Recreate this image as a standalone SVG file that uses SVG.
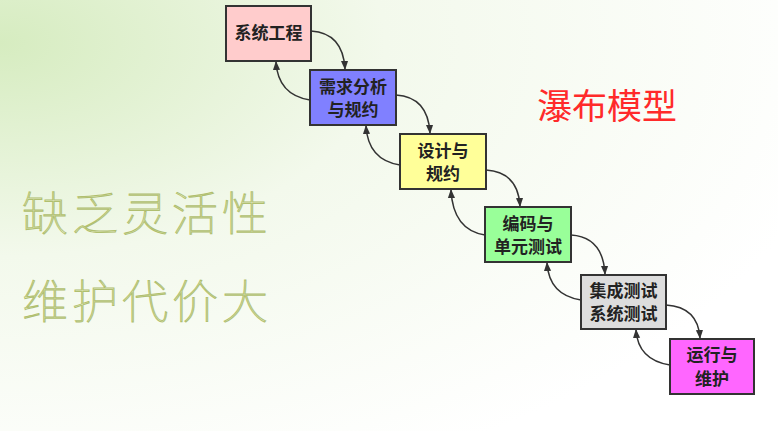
<svg xmlns="http://www.w3.org/2000/svg" width="778" height="431" viewBox="0 0 778 431">
<defs>
<radialGradient id="bg" cx="0" cy="0.1" r="1.1">
<stop offset="0" stop-color="#d6ecc0"/><stop offset="0.45" stop-color="#f3f9ec"/><stop offset="1" stop-color="#ffffff"/>
</radialGradient>
<marker id="ah" viewBox="0 0 10 10" refX="9" refY="5" markerWidth="6" markerHeight="6" orient="auto"><path d="M0,1 L10,5 L0,9 z" fill="#333"/></marker>
<style>
.b{stroke:#333;stroke-width:2}
.t{font-family:"Noto Sans CJK SC",sans-serif;font-size:17px;font-weight:bold;fill:#222;text-anchor:middle}
.c{fill:none;stroke:#333;stroke-width:1.5;marker-end:url(#ah)}
.g{font-family:"Noto Sans CJK SC",sans-serif;font-size:46px;font-weight:100;fill:#f2f7d8;stroke:#b0bf70;stroke-width:1;letter-spacing:4px}
</style>
</defs>
<rect width="778" height="431" fill="url(#bg)"/>
<text class="g" x="22" y="230">缺乏灵活性</text>
<text class="g" x="22" y="318">维护代价大</text>
<text x="537" y="119" style="font-family:'Noto Sans CJK SC',sans-serif;font-size:35px;fill:#ff2a2a">瀑布模型</text>
<g id="n1"><rect class="b" x="226" y="6" width="85" height="55" fill="#ffcccc"/><text class="t" x="268.5" y="39">系统工程</text></g>
<g id="n2"><rect class="b" x="310" y="70" width="86" height="55" fill="#8080ff"/><text class="t" x="353" y="93">需求分析</text><text class="t" x="353" y="116">与规约</text></g>
<g id="n3"><rect class="b" x="400" y="134" width="86" height="55" fill="#ffff99"/><text class="t" x="443" y="157">设计与</text><text class="t" x="443" y="180">规约</text></g>
<g id="n4"><rect class="b" x="485" y="207" width="86" height="55" fill="#99ff99"/><text class="t" x="528" y="230">编码与</text><text class="t" x="528" y="253">单元测试</text></g>
<g id="n5"><rect class="b" x="581" y="275" width="85" height="54" fill="#dddddd"/><text class="t" x="623.5" y="297">集成测试</text><text class="t" x="623.5" y="320">系统测试</text></g>
<g id="n6"><rect class="b" x="670" y="339" width="84" height="55" fill="#ff66ff"/><text class="t" x="712" y="361">运行与</text><text class="t" x="712" y="385">维护</text></g>
<g id="connectors">
<path class="c" d="M311,31 Q343,33 345,69"/>
<path class="c" d="M310,100 Q278,95 276,62"/>
<path class="c" d="M396,95 Q428,97 430,133"/>
<path class="c" d="M400,165 Q368,160 366,126"/>
<path class="c" d="M486,170 Q518,172 520,206"/>
<path class="c" d="M485,235 Q453,230 451,190"/>
<path class="c" d="M571,235 Q603,237 605,274"/>
<path class="c" d="M581,300 Q549,295 547,263"/>
<path class="c" d="M666,305 Q698,307 700,338"/>
<path class="c" d="M670,365 Q638,360 636,330"/>
</g>
</svg>
